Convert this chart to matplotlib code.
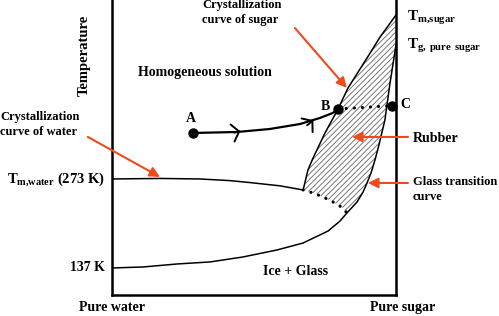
import numpy as np
import matplotlib
matplotlib.use('Agg')
import matplotlib.pyplot as plt

plt.rcParams['font.family'] = ['Liberation Serif', 'DejaVu Serif']
plt.rcParams['font.weight'] = 'bold'
plt.rcParams['mathtext.fontset'] = 'custom'
plt.rcParams['mathtext.rm'] = 'Liberation Serif'
plt.rcParams['mathtext.bf'] = 'Liberation Serif:bold'
plt.rcParams['hatch.linewidth'] = 0.7

# x = mass fraction of sugar, y = temperature (K)
water_x = [0.0, 0.063, 0.169, 0.310, 0.415, 0.486, 0.592, 0.673]
water_T = [273.0, 273.3, 273.8, 273.0, 270.5, 267.5, 262.5, 256.2]

eut_x = [0.673, 0.708, 0.743, 0.778, 0.813, 0.827]
eut_T = [256.2, 251.6, 245.5, 237.9, 228.7, 221.0]

glass_x = [0.0, 0.109, 0.229, 0.345, 0.461, 0.581, 0.673, 0.761, 0.803, 0.827,
           0.863, 0.884, 0.898, 0.912, 0.926, 0.940, 0.961, 0.979, 1.0]
glass_T = [137.0, 138.5, 143.1, 146.2, 153.8, 164.5, 175.2, 193.5, 208.8, 221.0,
           237.9, 253.1, 266.9, 282.2, 302.0, 325.0, 363.2, 419.7, 477.8]

sugar_x = [0.673, 0.690, 0.708, 0.750, 0.796, 0.831, 0.898, 0.944, 1.0]
sugar_T = [256.2, 286.8, 305.1, 343.3, 380.0, 412.1, 457.9, 490.0, 523.6]

path_x = [0.285, 0.440, 0.556, 0.662, 0.732, 0.778, 0.796]
path_T = [343.3, 344.8, 349.4, 357.0, 366.2, 374.0, 380.0]

pt_A = (0.285, 343.3)
pt_B = (0.796, 380.0)
pt_C = (0.986, 385.0)

chevron_x = [0.440, 0.697]
chevron_T = [344.8, 358.6]

orange = '#ee4b1c'

fig = plt.figure(figsize=(4.99, 3.16), dpi=100)
ax = fig.add_axes([112 / 499, 21 / 316, 284 / 499, 295 / 316])
ax.set_xlim(0, 1)
ax.set_ylim(95.7, 546.5)
ax.set_xticks([])
ax.set_yticks([])
ax.spines['top'].set_visible(False)
for s in ['left', 'right', 'bottom']:
    ax.spines[s].set_linewidth(1.8)

# rubber region (hatched)
n_g = sum(1 for v in glass_x if v >= 0.827)
poly_x = sugar_x + glass_x[::-1][:n_g] + eut_x[::-1]
poly_T = sugar_T + glass_T[::-1][:n_g] + eut_T[::-1]
ax.fill(poly_x, poly_T, facecolor='none', edgecolor='#777777', hatch='//////', linewidth=0)

# curves
ax.plot(water_x, water_T, color='black', lw=1.1)
ax.plot(glass_x, glass_T, color='black', lw=1.1)
ax.plot(sugar_x, sugar_T, color='black', lw=1.1)
ax.plot(eut_x, eut_T, color='black', lw=2.2, linestyle=(0, (0.05, 2.6)), dash_capstyle='round')
ax.plot(path_x, path_T, color='black', lw=1.6)
ax.plot([pt_B[0], pt_C[0]], [pt_B[1], pt_C[1]], color='black', lw=2.2,
        linestyle=(0, (0.05, 2.6)), dash_capstyle='round')
for p in [pt_A, pt_B, pt_C]:
    ax.plot(p[0], p[1], 'o', color='black', ms=6.5, clip_on=False, zorder=5)

# open chevrons on the path
slopes = [0.1, 0.35]
for cx, cT, sl in zip(chevron_x, chevron_T, slopes):
    ax.annotate('', xy=(cx + 0.012, cT + sl * 12), xytext=(cx - 0.01, cT - sl * 10),
                arrowprops=dict(arrowstyle='->,head_length=0.35,head_width=0.45', color='black', lw=1.4,
                                mutation_scale=14, shrinkA=0, shrinkB=0))

# orange pointer arrows
arrows = [((-0.085, 337.2), (0.169, 276.1)),
          ((0.644, 503.7), (0.827, 412.1)),
          ((1.042, 337.2), (0.845, 337.2)),
          ((1.042, 266.9), (0.901, 266.9))]
for start, end in arrows:
    ax.annotate('', xy=end, xytext=start, annotation_clip=False,
                arrowprops=dict(arrowstyle='-|>,head_length=0.5,head_width=0.25', color=orange, lw=1.5,
                                mutation_scale=12, shrinkA=0, shrinkB=0))

tk = dict(clip_on=False, fontweight='bold', color='black')
ax.text(-0.099, 462.5, 'Temperature', rotation=90, ha='center', va='center', fontsize=10.5, **tk)
ax.text(0.092, 435.0, 'Homogeneous solution', ha='left', va='center', fontsize=10, **tk)
ax.text(-0.394, 356.3, 'Crystallization\ncurve of water', ha='left', va='center', fontsize=9,
        linespacing=1.25, **tk)
ax.text(0.317, 527.4, 'Crystallization\ncurve of sugar', ha='left', va='center', fontsize=9,
        linespacing=1.25, **tk)
ax.text(1.039, 515.9, r'T$_{\rm m{,}sugar}$', ha='left', va='baseline', fontsize=11, **tk)
ax.text(1.039, 473.2, r'T$_{\rm g{,}\ pure\ sugar}$', ha='left', va='baseline', fontsize=11, **tk)
ax.text(0.768, 383.0, 'B', ha='right', va='center', fontsize=10, **tk)
ax.text(1.014, 386.1, 'C', ha='left', va='center', fontsize=10, **tk)
ax.text(0.278, 364.7, 'A', ha='center', va='center', fontsize=10, **tk)
ax.text(1.060, 334.1, 'Rubber', ha='left', va='center', fontsize=10, **tk)
ax.text(1.060, 257.0, 'Glass transition\ncurve', ha='left', va='center', fontsize=9,
        linespacing=1.25, **tk)
ax.text(0.532, 130.9, 'Ice + Glass', ha='left', va='center', fontsize=10, **tk)
ax.text(0.0, 75.9, 'Pure water', ha='center', va='center', fontsize=10, **tk)
ax.text(1.025, 75.9, 'Pure sugar', ha='center', va='center', fontsize=10, **tk)
ax.text(-0.025, 267.0, r'T$_{\rm m{,}water}$ (273 K)', ha='right', va='baseline', fontsize=10.5, **tk)
ax.text(-0.025, 137.0, '137 K', ha='right', va='center', fontsize=10, **tk)

fig.savefig('out.png', dpi=100)
